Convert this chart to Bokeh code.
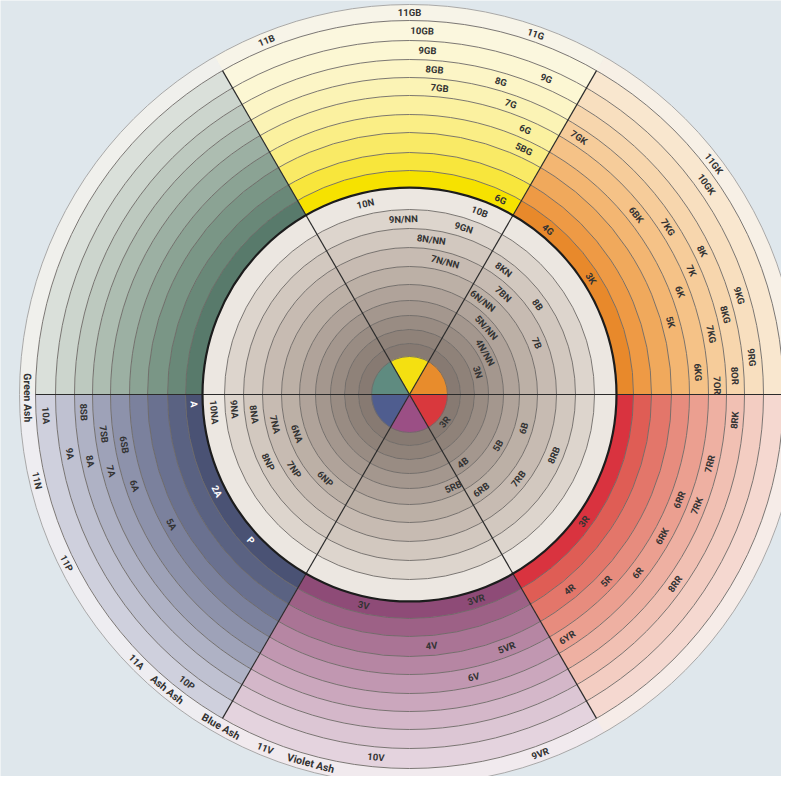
import math
from bokeh.plotting import figure
from bokeh.models import Range1d, ColumnDataSource
from bokeh.embed import file_html
from bokeh.resources import INLINE
from bokeh.core.properties import value

BG = "#dfe7ec"
FONT = "Roboto"

# ---- structure of the wheel -------------------------------------------
sectors = ["Orange", "Yellow", "Green", "Blue", "Violet", "Red"]
sector_start = [0, 60, 120, 180, 240, 300]
sector_end = [60, 120, 180, 240, 300, 360]

outer_edges = [207, 224, 242, 262, 280, 299, 317, 335, 354, 374, 390]
inner_edges = [38, 51, 65, 79, 94, 110, 128, 147, 166, 185, 207]

outer_colors = {
    "Orange": ["#e8892b", "#ee9a45", "#f0a95c", "#f3b672", "#f5c287",
               "#f6cc9a", "#f7d6ad", "#f8dfbf", "#f9e7cf", "#f7f0e6"],
    "Yellow": ["#f6e200", "#f8e63c", "#f9ea66", "#faee86", "#fbf1a0",
               "#fbf3b5", "#fcf5c6", "#fcf7d3", "#fbf7de", "#f7f4e8"],
    "Green":  ["#587a6b", "#698878", "#7a9686", "#8ba394", "#9cb0a3",
               "#adbdb1", "#bdc9bf", "#ccd5cd", "#dae0da", "#f0f0ec"],
    "Blue":   ["#4a5274", "#5a6282", "#6a7190", "#7b819d", "#8d92ab",
               "#9ea2b8", "#afb2c5", "#bfc1d1", "#cfd0dd", "#eeedf1"],
    "Violet": ["#8e4b77", "#9d6186", "#aa7495", "#b686a3", "#c197b1",
               "#cba7bd", "#d4b7c9", "#dcc6d4", "#e4d3de", "#f1eaee"],
    "Red":    ["#d9333f", "#df5d55", "#e3766a", "#e78c7e", "#eb9f90",
               "#eeb0a2", "#f1c0b3", "#f3cdc2", "#f5d8d0", "#f6ece8"],
}
inner_colors = ["#877a72", "#8f8279", "#998c83", "#a4978e", "#b0a39a",
                "#bcb0a6", "#c7bbb2", "#d2c8bf", "#ddd5cd", "#ece7e1"]
center_colors = ["#e88c2c", "#f4e011", "#5f8b80", "#4f5d8f", "#9b4f85", "#d9383d"]

# ---- labels: (text, band level, angle in degrees) ---------------------
outer_labels = [
    ("11GB", 9, 90), ("10GB", 8, 88), ("9GB", 7, 87), ("8GB", 6, 85.6), ("7GB", 5, 84.4),
    ("11B", 9, 112), ("11G", 9, 70.7), ("9G", 7, 66.6), ("8G", 6, 73.7), ("7G", 5, 70.8),
    ("6G", 4, 66.4), ("5BG", 3, 65), ("6G", 0, 65),
    ("7GK", 5, 56.6), ("11GK", 9, 37.2), ("10GK", 8, 35.3), ("6BK", 4, 38.4), ("7KG", 5, 32.9),
    ("8K", 6, 26.1), ("7K", 5, 23.7), ("6K", 4, 20.8), ("9KG", 7, 16.7), ("8KG", 6, 14.2),
    ("5K", 3, 15.5), ("7KG", 5, 11.3), ("9RG", 7, 6.2), ("8OR", 6, 3.3), ("7OR", 5, 1.7),
    ("6KG", 4, 4.4), ("3K", 0, 32.6), ("4G", 0, 50),
    ("8RK", 6, 355.5), ("7RR", 5, 347), ("6RR", 4, 338.7), ("7RK", 5, 338.8), ("6RK", 4, 330.7),
    ("6R", 4, 322), ("5R", 3, 316.5), ("4R", 2, 309.4), ("8RR", 6, 324.5), ("6YR", 4, 303),
    ("3R", 0, 324),
    ("9VR", 9, 290), ("3V", 0, 257.7), ("3VR", 0, 288), ("4V", 2, 275), ("5VR", 3, 291),
    ("6V", 4, 282.8), ("10V", 8, 264.7), ("11V", 9, 247.8), ("Violet Ash", 9, 255),
    ("Blue Ash", 9, 240.4),
    ("Green Ash", 9, 180.5), ("10A", 8, 183.3), ("11N", 9, 193), ("9A", 7, 189.9),
    ("8SB", 6, 183.1), ("8A", 6, 191.8), ("7SB", 5, 187.4), ("7A", 5, 194.4), ("6SB", 4, 190),
    ("6A", 4, 198.4), ("5A", 3, 208.6), ("2A", 0, 206.7), ("A", 0, 182.6), ("P", 0, 222.6),
    ("11P", 9, 206.2), ("11A", 9, 224.4), ("Ash Ash", 9, 230.6), ("10P", 8, 232.3),
]
white_labels = ["A", "2A", "P"]
inner_labels = [
    ("10N", 9, 103), ("9N/NN", 8, 92), ("8N/NN", 7, 82), ("7N/NN", 6, 75), ("10B", 9, 69),
    ("9GN", 8, 72), ("8KN", 7, 53), ("7BN", 6, 47), ("6N/NN", 5, 52), ("5N/NN", 4, 41),
    ("4N/NN", 3, 29), ("3N", 2, 18), ("8B", 7, 35), ("7B", 6, 22),
    ("3R", 0, 322), ("6B", 5, 343.5), ("5B", 4, 330), ("4B", 3, 308), ("5RB", 4, 295.4),
    ("6RB", 5, 307), ("7RB", 6, 322.3), ("8RB", 7, 337.2),
    ("10NA", 9, 185.2), ("9NA", 8, 184.8), ("8NA", 7, 187.3), ("7NA", 6, 192.6),
    ("6NA", 5, 199.2), ("8NP", 7, 205.5), ("7NP", 6, 213), ("6NP", 5, 225),
]

rad = math.radians

p = figure(width=781, height=776, x_range=Range1d(-409, 372), y_range=Range1d(-382, 394),
           output_backend="svg", toolbar_location=None, min_border=0,
           background_fill_color=BG, border_fill_color=BG, outline_line_color=None)
p.axis.visible = False
p.grid.visible = False

# outer ring wedges
w = dict(ri=[], ro=[], sa=[], ea=[], c=[])
for name, s, e in zip(sectors, sector_start, sector_end):
    for k in range(len(outer_edges) - 1):
        w["ri"].append(outer_edges[k]); w["ro"].append(outer_edges[k + 1])
        w["sa"].append(rad(s)); w["ea"].append(rad(e)); w["c"].append(outer_colors[name][k])
# inner disc bands
for k in range(len(inner_edges) - 1):
    w["ri"].append(inner_edges[k]); w["ro"].append(inner_edges[k + 1])
    w["sa"].append(0); w["ea"].append(2 * math.pi); w["c"].append(inner_colors[k])
# center
for s, e, c in zip(sector_start, sector_end, center_colors):
    w["ri"].append(0); w["ro"].append(inner_edges[0])
    w["sa"].append(rad(s)); w["ea"].append(rad(e)); w["c"].append(c)
src = ColumnDataSource(w)
p.annular_wedge(x=0, y=0, inner_radius="ri", outer_radius="ro", start_angle="sa",
                end_angle="ea", fill_color="c", line_color="c", line_width=0.6, source=src)

# band separators
seps = outer_edges[1:-1] + inner_edges[:-1]
p.circle(x=[0] * len(seps), y=[0] * len(seps), radius=seps, fill_color=None,
         line_color="#6e6a66", line_width=0.9)
p.circle(x=[0], y=[0], radius=[outer_edges[-1]], fill_color=None, line_color="#a8a8a8", line_width=1)

# radial sector lines
line_r = outer_edges[-2]
p.segment(x0=[0] * 6, y0=[0] * 6,
          x1=[line_r * math.cos(rad(a)) for a in sector_start],
          y1=[line_r * math.sin(rad(a)) for a in sector_start],
          line_color="#2b2b2b", line_width=1.2)
# heavy boundary between outer ring and inner disc
p.circle(x=[0], y=[0], radius=[outer_edges[0]], fill_color=None, line_color="#1c1c1c", line_width=2.2)


def mids(edges):
    return [(a + b) / 2 for a, b in zip(edges[:-1], edges[1:])]


om, im = mids(outer_edges), mids(inner_edges)
L = dict(x=[], y=[], t=[], a=[], c=[], s=[])
for lst, m in ((outer_labels, om), (inner_labels, im)):
    for t, lvl, ang in lst:
        r = m[lvl]
        ang = ang % 360
        rot = ang - 90 if ang < 180 else ang + 90
        L["x"].append(r * math.cos(rad(ang))); L["y"].append(r * math.sin(rad(ang)))
        L["t"].append(t); L["a"].append(rad(rot))
        L["c"].append("#ffffff" if (lst is outer_labels and t in white_labels) else "#333333")
        L["s"].append("10.5px" if "Ash" in t else "9.5px")
p.text(x="x", y="y", text="t", angle="a", text_color="c", text_font_size="s",
       text_font=value(FONT), text_font_style="bold", text_align="center",
       text_baseline="middle", source=ColumnDataSource(L))

html = file_html(p, INLINE)
html = html.replace("<body>", '<body style="background-color:%s;">' % BG, 1)
open("out.html", "w").write(html)
